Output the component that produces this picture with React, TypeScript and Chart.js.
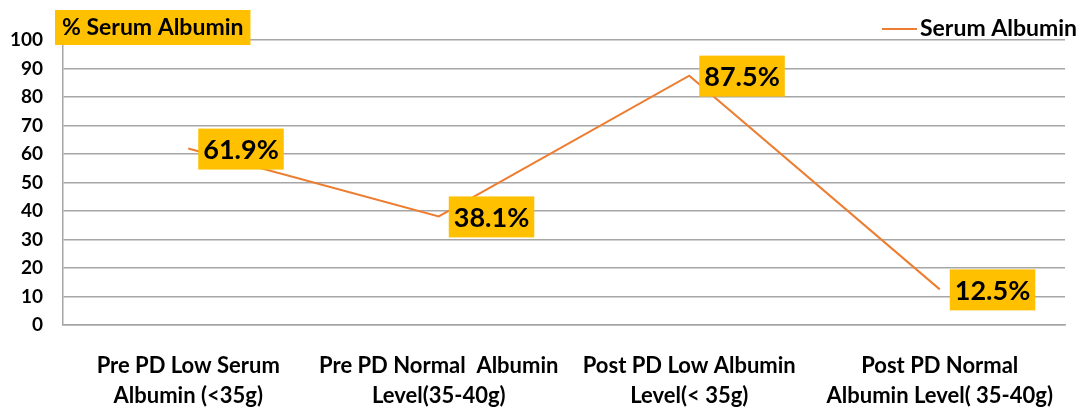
import React, { useEffect, useRef } from "react";
import { Chart, registerables } from "chart.js";

Chart.register(...registerables);

const categories: string[][] = [
  ["Pre PD Low Serum", "Albumin (<35g)"],
  ["Pre PD Normal  Albumin", "Level(35-40g)"],
  ["Post PD Low Albumin", "Level(< 35g)"],
  ["Post PD Normal", "Albumin Level( 35-40g)"],
];
const seriesName = "Serum Albumin";
const serumAlbumin: number[] = [61.9, 38.1, 87.5, 12.5];
const yTicks: number[] = [0, 10, 20, 30, 40, 50, 60, 70, 80, 90, 100];
const yTitle = "% Serum Albumin";

const ORANGE = "#ED7D31";
const YELLOW = "#FFC000";
const FONT = "Lato, 'Open Sans', sans-serif";

const overlayPlugin = {
  id: "overlay",
  afterDatasetsDraw(chart: any) {
    const ctx = chart.ctx;
    const meta = chart.getDatasetMeta(0);
    ctx.save();
    // data labels
    ctx.font = `bold 27px ${FONT}`;
    ctx.textBaseline = "middle";
    ctx.textAlign = "left";
    meta.data.forEach((pt: any, i: number) => {
      const txt = serumAlbumin[i].toFixed(1) + "%";
      const w = ctx.measureText(txt).width;
      const bx = pt.x + 10;
      const by = pt.y - 20;
      ctx.fillStyle = YELLOW;
      ctx.fillRect(bx, by, w + 10, 41);
      ctx.fillStyle = "#000";
      ctx.fillText(txt, bx + 5, by + 22);
    });
    // title box
    ctx.font = `bold 23px ${FONT}`;
    const tw = ctx.measureText(yTitle).width;
    ctx.fillStyle = YELLOW;
    ctx.fillRect(55, 10, tw + 14, 35);
    ctx.fillStyle = "#000";
    ctx.fillText(yTitle, 62, 28);
    // legend
    const lw = ctx.measureText(seriesName).width;
    const tx = 1077 - lw;
    ctx.strokeStyle = ORANGE;
    ctx.lineWidth = 2;
    ctx.beginPath();
    ctx.moveTo(tx - 38, 29);
    ctx.lineTo(tx - 3, 29);
    ctx.stroke();
    ctx.fillStyle = "#000";
    ctx.fillText(seriesName, tx, 29);
    ctx.restore();
  },
};

export default function App() {
  const ref = useRef<HTMLCanvasElement | null>(null);
  useEffect(() => {
    document.body.style.margin = "0";
    if (!ref.current) return;
    const chart = new Chart(ref.current, {
      type: "line",
      data: {
        labels: categories,
        datasets: [
          {
            label: seriesName,
            data: serumAlbumin,
            borderColor: ORANGE,
            backgroundColor: ORANGE,
            borderWidth: 2,
            pointRadius: 0,
            tension: 0,
          },
        ],
      },
      options: {
        animation: false,
        responsive: false,
        layout: { padding: { top: 40, right: 8, left: 0, bottom: 0 } },
        plugins: {
          legend: { display: false },
          tooltip: { enabled: false },
        },
        scales: {
          x: {
            offset: true,
            grid: { display: false, drawTicks: false },
            border: { color: "#a6a6a6", width: 1.5 },
            ticks: {
              color: "#000",
              font: { family: FONT, size: 22, weight: "bold", lineHeight: 1.36 },
              padding: 26,
              maxRotation: 0,
              autoSkip: false,
            },
            afterFit(scale: any) {
              scale.height = 408 - 325;
            },
          },
          y: {
            min: 0,
            max: 100,
            afterBuildTicks(scale: any) {
              scale.ticks = yTicks.map((v) => ({ value: v }));
            },
            grid: { color: "#a6a6a6", lineWidth: 1.5, drawTicks: false },
            border: { color: "#a6a6a6", width: 1.5 },
            ticks: {
              color: "#000",
              font: { family: FONT, size: 19, weight: "bold" },
              padding: 20,
            },
            afterFit(scale: any) {
              scale.width = 63;
            },
          },
        },
      },
      plugins: [overlayPlugin],
    });
    return () => chart.destroy();
  }, []);
  return (
    <div style={{ width: 1080, height: 408 }}>
      <canvas ref={ref} width={1080} height={408} />
    </div>
  );
}
